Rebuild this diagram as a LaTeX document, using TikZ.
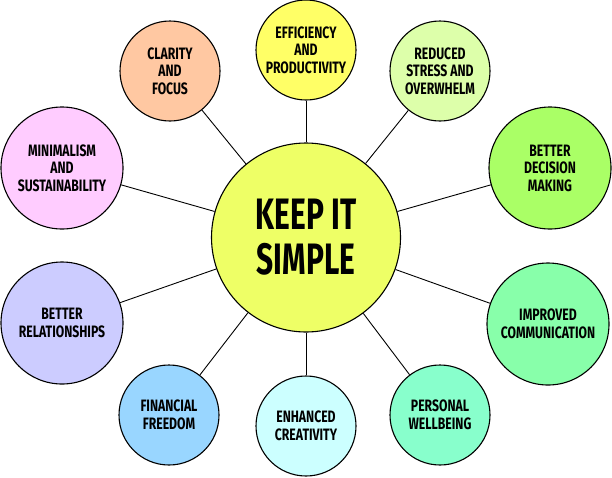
\documentclass[tikz,border=0pt]{standalone}
\usepackage{fontspec}
\newfontfamily\hand[FakeStretch=0.74]{Fira Sans}
\newfontfamily\handbig[FakeStretch=0.68]{Fira Sans}
\definecolor{cCenter}{HTML}{EEFF66}
\definecolor{cClarity}{HTML}{FFC8A2}
\definecolor{cEff}{HTML}{FFFF66}
\definecolor{cStress}{HTML}{DDFFAA}
\definecolor{cDecision}{HTML}{AAFF66}
\definecolor{cComm}{HTML}{88FFAA}
\definecolor{cWell}{HTML}{88FFCC}
\definecolor{cCreat}{HTML}{CCFFFF}
\definecolor{cFin}{HTML}{99D6FF}
\definecolor{cRel}{HTML}{CCCCFF}
\definecolor{cMin}{HTML}{FFCCFF}
\begin{document}
\begin{tikzpicture}[x=1pt,y=-1pt,
  bubble/.style={circle, draw=black, line width=1.1pt, inner sep=0pt,
    minimum size=#1, align=center, text=black,
    font=\hand\bfseries\fontsize{16.5}{17.5}\selectfont},
  bigbubble/.style={circle, draw=black, line width=1.1pt, inner sep=0pt,
    minimum size=189pt, align=center, text=black,
    font=\handbig\bfseries\fontsize{44}{45}\selectfont},
  link/.style={draw=black, line width=0.9pt}]
\useasboundingbox (0,0) rectangle (612,477);
\node[bigbubble, fill=cCenter] (c) at (306,237.5) {KEEP IT\\SIMPLE};
\node[bubble=100pt, fill=cClarity] (clar) at (170,71) {CLARITY\\AND\\FOCUS};
\node[bubble=100pt, fill=cEff] (eff) at (306,50) {EFFICIENCY\\AND\\PRODUCTIVITY};
\node[bubble=100pt, fill=cStress] (str) at (440,71) {REDUCED\\STRESS AND\\OVERWHELM};
\node[bubble=122pt, fill=cDecision] (dec) at (550,168) {BETTER\\DECISION\\MAKING};
\node[bubble=122pt, fill=cComm] (com) at (548,324) {IMPROVED\\COMMUNICATION};
\node[bubble=100pt, fill=cWell] (well) at (440,415) {PERSONAL\\WELLBEING};
\node[bubble=100pt, fill=cCreat] (cre) at (306,426) {ENHANCED\\CREATIVITY};
\node[bubble=100pt, fill=cFin] (fin) at (169,415) {FINANCIAL\\FREEDOM};
\node[bubble=122pt, fill=cRel] (rel) at (62,323) {BETTER\\RELATIONSHIPS};
\node[bubble=122pt, fill=cMin] (min) at (62,168) {MINIMALISM\\AND\\SUSTAINABILITY};
\foreach \n in {clar,eff,str,dec,com,well,cre,fin,rel,min}
  \draw[link] (c) -- (\n);
\end{tikzpicture}
\end{document}
